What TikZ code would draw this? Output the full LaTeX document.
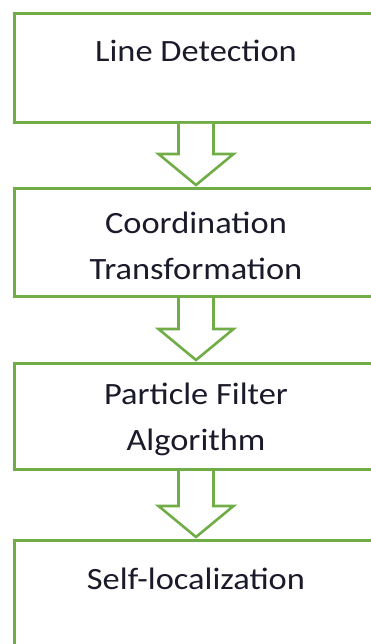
\documentclass[tikz,border=0pt]{standalone}
\usepackage{fontspec}
\setmainfont{Carlito}[FakeStretch=1.11]
\usetikzlibrary{calc}
\definecolor{boxgreen}{HTML}{70AD47}
\definecolor{txt}{HTML}{1A1A2A}
\newcommand{\blockarr}[2]{%
  \draw[arrline] let \p1=(#1.south), \p2=(#2.north) in
    (196pt-17.5pt,\y1) -- (196pt-17.5pt,\y2+33pt) -- (196pt-37.5pt,\y2+33pt)
    -- (196pt,\y2+2pt) -- (196pt+37.5pt,\y2+33pt) -- (196pt+17.5pt,\y2+33pt)
    -- (196pt+17.5pt,\y1);}
\begin{document}
\begin{tikzpicture}[x=1pt,y=-1pt,
  box/.style={draw=boxgreen, line width=3pt, rectangle, inner sep=0pt,
    minimum width=366pt, anchor=north west},
  arrline/.style={draw=boxgreen, line width=2.6pt, fill=white, line join=miter},
  lbl/.style={font=\fontsize{31}{46}\selectfont, align=center, anchor=base, inner sep=0pt, text=txt}]
\useasboundingbox (0,0) rectangle (371,644);
\clip (0,0) rectangle (371,644);
\node[box, minimum height=109pt] (b1) at (13,12) {};
\node[box, minimum height=108pt] (b2) at (13,187) {};
\node[box, minimum height=106pt] (b3) at (13,362) {};
\node[box, minimum height=150pt] (b4) at (13,539) {};
\blockarr{b1}{b2}
\blockarr{b2}{b3}
\blockarr{b3}{b4}
\node[lbl] (t1) at (196,62) {Line Detection};
\node[lbl] (t2) at (196,279) {Coordination\\Transformation};
\node[lbl] (t3) at (196,450) {Particle Filter\\Algorithm};
\node[lbl] (t4) at (196,589) {Self-localization};
\end{tikzpicture}
\end{document}
